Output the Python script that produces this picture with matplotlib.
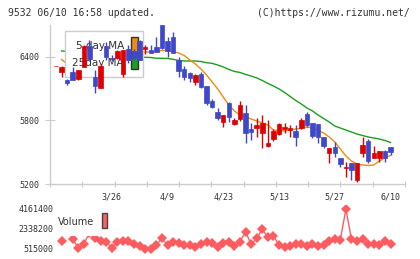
import numpy as np
import matplotlib
matplotlib.use("Agg")
import matplotlib.pyplot as plt
from matplotlib.patches import Rectangle

# ---- data ----
opens = [6312, 6255, 6183, 6255, 6192, 6308, 6504, 6214, 6110, 6504,
         6393, 6388, 6237, 6473, 6460, 6551, 6476, 6466, 6497, 6700,
         6551, 6586, 6372, 6287, 6252, 6167, 6239, 6129, 5987, 5883,
         5789, 5963, 5767, 5814, 5874, 5720, 5732, 5679, 5562, 5622,
         5672, 5717, 5710, 5704, 5726, 5861, 5774, 5764, 5641, 5496,
         5552, 5448, 5348, 5401, 5238, 5496, 5606, 5448, 5448, 5512, 5547]
highs = [6312, 6310, 6189, 6308, 6277, 6510, 6561, 6277, 6329, 6545,
         6419, 6465, 6470, 6513, 6480, 6561, 6513, 6513, 6592, 6700,
         6592, 6639, 6403, 6315, 6255, 6235, 6261, 6129, 6000, 5915,
         5855, 5978, 5821, 5984, 5946, 5774, 5821, 5852, 5805, 5720,
         5777, 5779, 5757, 5757, 5821, 5883, 5774, 5764, 5641, 5537,
         5600, 5448, 5411, 5401, 5398, 5647, 5622, 5559, 5512, 5522, 5547]
lows = [6312, 6208, 6135, 6178, 6187, 6305, 6372, 6057, 6110, 6372,
        6362, 6385, 6214, 6346, 6370, 6372, 6426, 6435, 6444, 6480,
        6403, 6441, 6214, 6183, 6167, 6135, 6104, 5946, 5920, 5805,
        5741, 5789, 5757, 5795, 5585, 5616, 5647, 5537, 5552, 5603,
        5663, 5685, 5647, 5559, 5717, 5741, 5632, 5585, 5537, 5396,
        5458, 5363, 5269, 5238, 5222, 5458, 5401, 5448, 5411, 5411, 5474]
closes = [6312, 6308, 6150, 6183, 6277, 6507, 6378, 6129, 6318, 6397,
          6378, 6457, 6466, 6372, 6390, 6372, 6497, 6435, 6444, 6485,
          6457, 6441, 6268, 6214, 6199, 6230, 6119, 5968, 5925, 5826,
          5852, 5836, 5805, 5946, 5679, 5694, 5757, 5774, 5590, 5704,
          5767, 5736, 5726, 5647, 5805, 5757, 5654, 5647, 5559, 5537,
          5496, 5386, 5358, 5332, 5398, 5568, 5420, 5496, 5512, 5448, 5500]

ma5 = [np.nan, 6376, 6334, 6315, 6315, 6343, 6372, 6353, 6353, 6391,
       6409, 6419, 6438, 6428, 6428, 6438, 6447, 6447, 6452, 6461,
       6461, 6452, 6438, 6414, 6372, 6334, 6287, 6230, 6164, 6098,
       6022, 5946, 5890, 5852, 5833, 5814, 5795, 5776, 5757, 5710,
       5705, 5701, 5710, 5720, 5724, 5739, 5729, 5705, 5682, 5644,
       5597, 5531, 5465, 5417, 5389, 5380, 5375, 5380, 5417, 5446, 5470]
ma25 = [np.nan, 6457, 6452, 6447, 6443, 6438, 6433, 6428, 6424, 6419,
        6414, 6409, 6407, 6404, 6400, 6398, 6397, 6395, 6388, 6388,
        6386, 6378, 6367, 6362, 6362, 6362, 6357, 6346, 6340, 6324,
        6306, 6282, 6263, 6254, 6235, 6220, 6202, 6178, 6150, 6126,
        6098, 6065, 6027, 5989, 5956, 5918, 5890, 5852, 5819, 5786,
        5748, 5729, 5710, 5691, 5672, 5658, 5644, 5635, 5625, 5611, 5592]

volume = [np.nan, 1270000, np.nan, 1400000, 630000, 970000, 2000000, 1550000, 1270000, 1180000,
          630000, 1180000, 1270000, 1270000, 940000, 820000, 515000, 520000, 880000, 1490000,
          880000, 1180000, 1030000, 880000, 880000, 720000, 940000, 1180000, 1030000, 720000,
          1030000, 1150000, 790000, 1180000, 2090000, 940000, 1490000, 2310000, 1580000, 1700000,
          880000, 670000, 790000, 940000, 940000, 790000, 940000, 790000, 880000, 1270000,
          1400000, 1340000, 4161400, 1400000, 1270000, 1430000, 970000, 940000, 880000, 1270000, 970000]

date_pos = [10, 20, 30, 40, 50, 60]
date_labels = ["3/26", "4/9", "4/23", "5/13", "5/27", "6/10"]
price_ticks = [5200, 5800, 6400]

UP = "#dd0000"
DOWN = "#3f48c8"
MA5_C = "#f08a10"
MA25_C = "#1aa01a"
VOL_C = "#ff5c60"
TXT = "#333333"
GRID = "#cccccc"

W, H = 420, 259
plt.rcParams["font.family"] = "DejaVu Sans Mono"

fig = plt.figure(figsize=(W / 100, H / 100), dpi=100)


def fx(x):
    return x / W


def fy(y):
    return 1 - y / H


ax = fig.add_axes([fx(50), fy(184), 355 / W, 159 / H])
axv = fig.add_axes([fx(50), fy(253), 355 / W, 48 / H])

n = len(closes)
x = np.arange(n)
o = np.array(opens, float)
c = np.array(closes, float)
colors = [UP if cc >= oo else DOWN for oo, cc in zip(o, c)]

# moving averages (behind legend box)
ax.plot(x, ma25, color=MA25_C, lw=1.0, zorder=1)
ax.plot(x, ma5, color=MA5_C, lw=1.0, zorder=1)

# legend box for the MAs
tf = fig.transFigure
ax.add_patch(Rectangle((fx(65.3), fy(77.3)), 78 / W, 46.6 / H, transform=tf,
                       fc="white", ec=GRID, lw=1, zorder=2))
ax.text(fx(124), fy(46), "5 day MA", transform=tf, ha="right", va="center",
        fontsize=7.5, color=TXT, family="DejaVu Sans", zorder=2)
ax.text(fx(124), fy(62.7), "25day MA", transform=tf, ha="right", va="center",
        fontsize=7.5, color=TXT, family="DejaVu Sans", zorder=2)
ax.add_patch(Rectangle((fx(131), fy(52.7)), 6.7 / W, 15.4 / H, transform=tf,
                       fc=MA5_C, ec="#333333", lw=1, zorder=2))
ax.add_patch(Rectangle((fx(131), fy(69.3)), 6.7 / W, 15.3 / H, transform=tf,
                       fc=MA25_C, ec="#333333", lw=1, zorder=2))

# candles
ax.vlines(x, lows, highs, colors=colors, lw=1, zorder=3)
ax.bar(x, c - o, bottom=o, width=0.8, color=colors, edgecolor=colors,
       linewidth=0.5, zorder=4)

ax.set_xlim(-1.076, 62.6)
ax.set_ylim(5200, 6702)
for s in ["top", "right"]:
    ax.spines[s].set_visible(False)
for s in ["left", "bottom"]:
    ax.spines[s].set_color(GRID)
    ax.spines[s].set_linewidth(1)
ax.set_yticks(price_ticks)
ax.set_yticklabels([str(v) for v in price_ticks])
ax.tick_params(axis="y", direction="inout", length=7.9, color=GRID,
               labelsize=6, labelcolor=TXT, pad=3.7)
ax.set_xticks(np.linspace(-1.076, 62.6, 12))
ax.set_xticklabels([])
ax.tick_params(axis="x", which="major", direction="inout", length=5,
               color=GRID)
ax.set_xticks(date_pos, minor=True)
ax.set_xticklabels(date_labels, minor=True)
ax.tick_params(axis="x", which="minor", length=0, pad=6.4, labelsize=6,
               labelcolor=TXT)

# volume panel
axv.plot(x, volume, color=VOL_C, lw=1, marker="D", markersize=4.8,
         markeredgewidth=0, zorder=1)
vmin = np.nanmin(volume)
vmax = np.nanmax(volume)
vt = [vmin, (vmin + vmax) / 2, vmax]
span = (vmax - vmin) / 40
axv.set_ylim(vmin - 4 * span, vmax + 4 * span)
axv.set_xlim(-1.076, 62.6)
axv.set_yticks(vt)
axv.set_yticklabels([f"{int(round(v))}" for v in vt])
axv.tick_params(axis="y", length=0, pad=-2.4, labelsize=6, labelcolor=TXT)
axv.set_xticks([])
for s in axv.spines.values():
    s.set_visible(False)
axv.patch.set_alpha(0)

axv.add_patch(Rectangle((fx(56), fy(236)), 54 / W, 28 / H, transform=tf,
                        fc="white", ec="none", zorder=2))
axv.text(fx(58.3), fy(221.7), "Volume", transform=tf, ha="left",
         va="center", fontsize=7, color=TXT, family="DejaVu Sans", zorder=3)
axv.add_patch(Rectangle((fx(101.7), fy(228.3)), 5.6 / W, 15 / H, transform=tf,
                        fc="#ff6060", ec="#444444", lw=1, zorder=3))

fig.text(fx(8), fy(12.7), "9532 06/10 16:58 updated.", ha="left",
         va="center", fontsize=7.0, color=TXT)
fig.text(fx(410), fy(12.7), "(C)https://www.rizumu.net/", ha="right",
         va="center", fontsize=7.0, color=TXT)

fig.savefig("out.png", dpi=100)
